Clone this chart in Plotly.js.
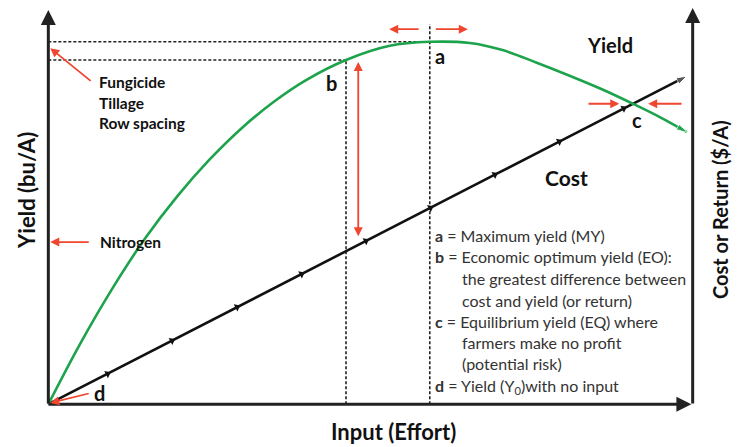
<!DOCTYPE html>
<html>
<head>
<meta charset="utf-8">
<script src="https://cdn.plot.ly/plotly-3.0.1.min.js"></script>
<style>html,body{margin:0;padding:0;background:#fff;}#chart{width:739px;height:447px;}</style>
</head>
<body>
<div id="chart"></div>
<script>
// Yield response curve (input units 0-10, yield units 0-10)
var yieldX = [0, 0.5, 1.0, 1.5, 2.0, 2.5, 3.0, 3.5, 4.0, 4.62, 5.30, 5.92, 6.54, 7.05, 7.58, 8.09, 8.60, 9.07, 9.49, 9.91];
var yieldY = [0, 1.55, 2.95, 4.20, 5.27, 6.20, 7.00, 7.67, 8.22, 8.73, 9.09, 9.19, 9.16, 8.98, 8.66, 8.33, 7.98, 7.62, 7.28, 6.90];
// Cost line with tick arrows
var costX = [0, 0.92, 1.92, 2.93, 3.93, 4.93, 5.93, 6.93, 7.93, 8.93, 9.91];
var costY = [0, 0.77, 1.61, 2.46, 3.30, 4.14, 4.98, 5.82, 6.66, 7.50, 8.32];
// Key points
var pointA = [5.92, 9.19];   // maximum yield
var pointB = [4.62, 8.73];   // economic optimum
var pointC = [9.07, 7.62];   // equilibrium
var legendLines = [
  "<b>a</b> = Maximum yield (MY)",
  "<b>b</b> = Economic optimum yield (EO):",
  "the greatest difference between",
  "cost and yield (or return)",
  "<b>c</b> = Equilibrium yield (EQ) where",
  "farmers make no profit",
  "(potential risk)",
  "<b>d</b> = Yield (Y<sub>0</sub>)with no input"
];
var legendIndent = [false, false, true, true, false, true, true, false];
var legendY = [4.27, 3.74, 3.18, 2.64, 2.09, 1.56, 1.02, 0.46];
var factorLabels = ["Fungicide", "Tillage", "Row spacing"];
var factorY = [8.17, 7.64, 7.13];

var GREEN = '#1da34b', RED = '#f0452e', AX = '#222';
var FONT = 'Lato, "Open Sans", sans-serif';

var dash = {color: '#222', width: 1.6, dash: '3px,2px'};
var traces = [
  {x: [0, pointA[0]], y: [pointA[1], pointA[1]], mode: 'lines', line: dash, hoverinfo: 'skip'},
  {x: [0, pointB[0]], y: [pointB[1], pointB[1]], mode: 'lines', line: dash, hoverinfo: 'skip'},
  {x: [pointA[0], pointA[0]], y: [0, 9.64], mode: 'lines', line: dash, hoverinfo: 'skip'},
  {x: [pointB[0], pointB[0]], y: [0, pointB[1]], mode: 'lines', line: dash, hoverinfo: 'skip'},
  {x: costX.slice(1, -1), y: costY.slice(1, -1), mode: 'markers',
   marker: {symbol: 'triangle-up', angle: 63, color: '#111', size: 7, line: {width: 0}}, hoverinfo: 'skip'},
  {x: costX, y: costY, mode: 'lines+markers', line: {color: '#111', width: 2.6},
   marker: {symbol: 'arrow', angleref: 'previous', color: '#111',
            size: costX.map(function(v, i){ return i === costX.length - 1 ? 11 : 0; })},
   hoverinfo: 'skip'},
  {x: yieldX, y: yieldY, mode: 'lines+markers', line: {color: GREEN, width: 2.6, shape: 'spline', smoothing: 1},
   marker: {symbol: 'arrow', angleref: 'previous', color: GREEN,
            size: yieldX.map(function(v, i){ return i === yieldX.length - 1 ? 11 : 0; })},
   hoverinfo: 'skip'}
];

function arrow(x, y, ax, ay, color, width, side) {
  return {x: x, y: y, ax: ax, ay: ay, xref: 'x', yref: 'y', axref: 'x', ayref: 'y',
          text: '', showarrow: true, arrowhead: 2, arrowsize: 1, arrowwidth: width,
          arrowcolor: color, arrowside: side || 'end', standoff: 0, startstandoff: 0};
}
function label(x, y, txt, size, opts) {
  var a = {x: x, y: y, xref: 'x', yref: 'y', text: txt, showarrow: false,
           font: {family: FONT, size: size, color: '#111'}};
  for (var k in opts) a[k] = opts[k];
  return a;
}

var ann = [];
// axes
ann.push(arrow(0, 10.0, 0, -0.02, AX, 3));
ann.push(arrow(10.0, 10.05, 10.0, -0.02, AX, 3));
ann.push(arrow(9.98, 0, -0.02, 0, AX, 3));
// red arrows
ann.push(arrow(0.03, 9.03, 0.68, 8.17, RED, 1.8));
ann.push(arrow(0.03, 4.11, 0.65, 4.11, RED, 1.8));
ann.push(arrow(0.03, 0.03, 0.65, 0.28, RED, 1.8));
ann.push(arrow(5.29, 9.51, 5.77, 9.51, RED, 1.8));
ann.push(arrow(6.51, 9.51, 5.99, 9.51, RED, 1.8));
ann.push(arrow(4.81, 8.68, 4.81, 4.22, RED, 1.8, 'end+start'));
ann.push(arrow(8.86, pointC[1], 8.36, pointC[1], RED, 1.8));
ann.push(arrow(9.31, pointC[1], 9.85, pointC[1], RED, 1.8));
// big labels
ann.push(label(8.72, 9.11, '<b>Yield</b>', 20));
ann.push(label(8.04, 5.74, '<b>Cost</b>', 21));
ann.push(label(6.08, 8.83, '<b>a</b>', 20));
ann.push(label(4.39, 8.15, '<b>b</b>', 20));
ann.push(label(9.14, 7.20, '<b>c</b>', 20));
ann.push(label(0.80, 0.28, '<b>d</b>', 20));
// factors
factorLabels.forEach(function(t, i){
  ann.push(label(0.76, factorY[i], '<b>' + t + '</b>', 15.5, {xanchor: 'left'}));
});
ann.push(label(0.77, 4.11, '<b>Nitrogen</b>', 15.5, {xanchor: 'left'}));
// legend text
legendLines.forEach(function(t, i){
  ann.push(label(legendIndent[i] ? 6.39 : 5.97, legendY[i], t, 16,
    {xanchor: 'left', font: {family: FONT, size: 16, color: '#333'}}));
});
// axis titles
ann.push({x: 0.534, y: -0.0386, xref: 'paper', yref: 'paper', xanchor: 'center', yanchor: 'middle',
          text: '<b>Input (Effort)</b>', showarrow: false,
          font: {family: FONT, size: 22, color: '#111'}});
ann.push({x: -0.003, y: 0.546, xref: 'paper', yref: 'paper', xanchor: 'center', yanchor: 'middle',
          text: '<b>Yield (bu/A)</b>', showarrow: false,
          textangle: -90, font: {family: FONT, size: 22, color: '#111'}});
ann.push({x: 1.0117, y: 0.50, xref: 'paper', yref: 'paper', xanchor: 'center', yanchor: 'middle',
          text: '<b>Cost or Return ($/A)</b>', showarrow: false,
          textangle: -90, font: {family: FONT, size: 20, color: '#111'}});

var layout = {
  width: 739, height: 447,
  margin: {l: 29, r: 27, t: 2, b: 31},
  paper_bgcolor: '#fff', plot_bgcolor: '#fff',
  showlegend: false,
  xaxis: {range: [-0.3, 10.3], visible: false, fixedrange: true},
  yaxis: {range: [-0.3, 10.2], visible: false, fixedrange: true},
  annotations: ann
};
Plotly.newPlot('chart', traces, layout, {staticPlot: true});
</script>
</body>
</html>
